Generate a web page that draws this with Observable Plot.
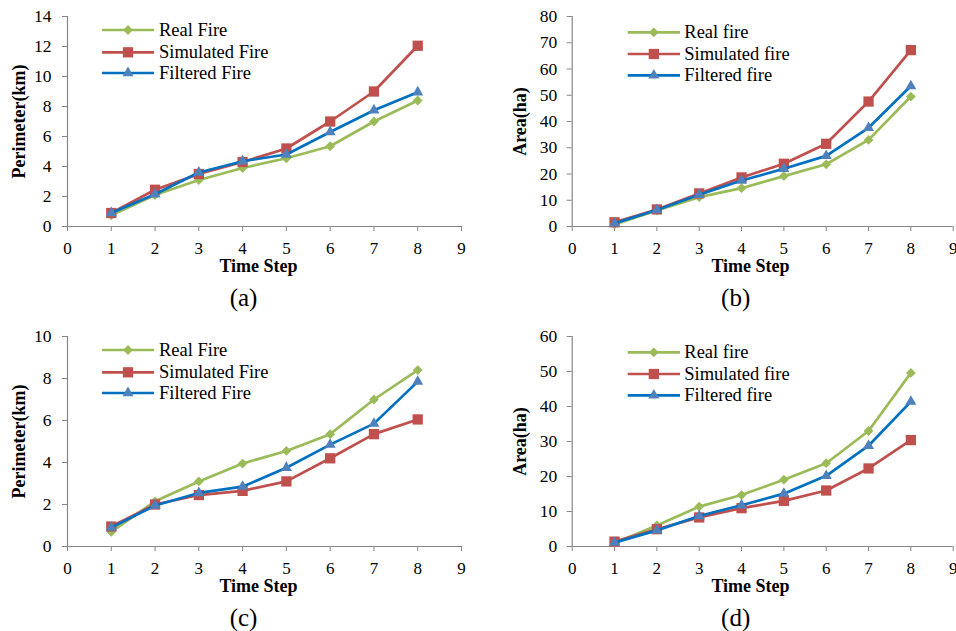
<!DOCTYPE html>
<html>
<head>
<meta charset="utf-8">
<script src="https://cdn.jsdelivr.net/npm/d3@7"></script>
<script src="https://cdn.jsdelivr.net/npm/@observablehq/plot@0.6"></script>
<style>
  html, body { margin: 0; padding: 0; background: #fff; }
  #fig { position: relative; width: 956px; height: 631px; overflow: hidden; background: #fff; }
  .panel { position: absolute; }
  .panel svg { position: absolute; left: 0; top: 0; overflow: visible; }
</style>
</head>
<body>
<div id="fig"></div>
<script>
// Time steps shared by all four panels
const timeSteps = [1, 2, 3, 4, 5, 6, 7, 8];
const xTicks = [0, 1, 2, 3, 4, 5, 6, 7, 8, 9];

// (a) perimeter, km
const perimA_real = [0.75, 2.1, 3.1, 3.9, 4.55, 5.35, 7.0, 8.4];
const perimA_sim  = [0.9, 2.45, 3.5, 4.3, 5.2, 7.0, 9.0, 12.05];
const perimA_filt = [0.9, 2.15, 3.6, 4.35, 4.8, 6.3, 7.75, 8.95];

// (b) area, ha
const areaB_real = [0.8, 6.1, 11.2, 14.6, 19.2, 23.7, 33.0, 49.5];
const areaB_sim  = [1.6, 6.5, 12.6, 18.7, 23.9, 31.5, 47.6, 67.2];
const areaB_filt = [1.2, 6.3, 12.1, 17.5, 22.0, 26.9, 37.6, 53.5];

// (c) perimeter, km
const perimC_real = [0.7, 2.15, 3.1, 3.95, 4.55, 5.35, 7.0, 8.4];
const perimC_sim  = [0.95, 2.0, 2.45, 2.65, 3.1, 4.2, 5.35, 6.05];
const perimC_filt = [0.9, 1.95, 2.55, 2.85, 3.75, 4.85, 5.85, 7.85];

// (d) area, ha
const areaD_real = [1.0, 6.0, 11.4, 14.7, 19.1, 23.8, 33.0, 49.6];
const areaD_sim  = [1.4, 4.95, 8.3, 10.95, 13.05, 16.0, 22.3, 30.4];
const areaD_filt = [1.1, 4.6, 8.7, 11.8, 15.1, 20.2, 28.8, 41.4];

const namesPerim = ["Real Fire", "Simulated Fire", "Filtered Fire"];
const namesArea  = ["Real fire", "Simulated fire", "Filtered fire"];

const FONT = "'Liberation Serif', 'Times New Roman', serif";
const AXIS_GRAY = "#868686";

// Per-series styling: line colour, marker colour, marker symbol and radius
const seriesStyle = [
  { line: "#9BBB59", marker: "#9BBB59", symbol: "diamond2", r: 4.4 },
  { line: "#C0504D", marker: "#C0504D", symbol: "square",   r: 5.8 },
  { line: "#0070C0", marker: "#4F81BD", symbol: "triangle", r: 4.1 }
];

const panels = [
  { id: "a", left: 0,   top: 0,   series: [perimA_real, perimA_sim, perimA_filt], names: namesPerim,
    yMax: 14, yStep: 2, yLabel: "Perimeter(km)", mLeft: 67, mRight: 17, yPad: 11,
    yLabelDx: -48, titleDx: -6, capDx: -21, legend: { x0: 102, x1: 154, xt: 159, rows: [30, 52.3, 73] } },
  { id: "b", left: 478, top: 0,   series: [areaB_real, areaB_sim, areaB_filt], names: namesArea,
    yMax: 80, yStep: 10, yLabel: "Area(ha)", mLeft: 93.7, mRight: 3.3, yPad: 10,
    yLabelDx: -52.4, titleDx: -12.2, capDx: -27, legend: { x0: 149.7, x1: 202, xt: 206.3, rows: [32.3, 54, 75.3] } },
  { id: "c", left: 0,   top: 320, series: [perimC_real, perimC_sim, perimC_filt], names: namesPerim,
    yMax: 10, yStep: 2, yLabel: "Perimeter(km)", mLeft: 67, mRight: 17, yPad: 11,
    yLabelDx: -48, titleDx: -6, capDx: -21, legend: { x0: 102, x1: 154, xt: 159, rows: [30, 52.3, 73] } },
  { id: "d", left: 478, top: 320, series: [areaD_real, areaD_sim, areaD_filt], names: namesArea,
    yMax: 60, yStep: 10, yLabel: "Area(ha)", mLeft: 93.7, mRight: 3.3, yPad: 10,
    yLabelDx: -52.4, titleDx: -12.2, capDx: -27, legend: { x0: 149.7, x1: 202, xt: 206.3, rows: [32.3, 54, 75.3] } }
];

const PW = 478, PH = 311, M_TOP = 16, M_BOTTOM = PH - 226;
const fig = document.getElementById("fig");

for (const p of panels) {
  const holder = document.createElement("div");
  holder.className = "panel";
  holder.style.left = p.left + "px";
  holder.style.top = p.top + "px";
  holder.style.width = PW + "px";
  holder.style.height = PH + "px";
  fig.appendChild(holder);

  const rows = [];
  p.series.forEach((vals, si) => {
    vals.forEach((v, i) => rows.push({ t: timeSteps[i], v, s: si }));
  });

  const seriesMarks = [];
  seriesStyle.forEach((st, si) => {
    const d = rows.filter(r => r.s === si);
    seriesMarks.push(Plot.line(d, { x: "t", y: "v", stroke: st.line, strokeWidth: 2.7 }));
    seriesMarks.push(Plot.dot(d, { x: "t", y: "v", symbol: () => st.symbol, r: st.r, fill: st.marker, stroke: "none" }));
  });

  const chart = Plot.plot({
    width: PW,
    height: PH,
    marginLeft: p.mLeft,
    marginRight: p.mRight,
    marginTop: M_TOP,
    marginBottom: M_BOTTOM,
    style: { fontFamily: FONT, fontSize: "17px", color: "black", background: "transparent", overflow: "visible" },
    x: { domain: [0, 9] },
    y: { domain: [0, p.yMax] },
    symbol: { type: "identity" },
    marks: [
      Plot.axisX({ ticks: xTicks, tickSize: 5, tickPadding: 10, stroke: AXIS_GRAY, fill: "black",
                   tickFormat: d => String(d), label: null, fontSize: 17, fontFamily: FONT }),
      Plot.axisY({ ticks: d3.range(0, p.yMax + 0.001, p.yStep), tickSize: 5, tickPadding: p.yPad,
                   stroke: AXIS_GRAY, fill: "black", tickFormat: d => String(d), label: null, fontSize: 17.5, fontFamily: FONT }),
      Plot.ruleX([0], { stroke: AXIS_GRAY, strokeWidth: 1.2 }),
      Plot.ruleY([0], { stroke: AXIS_GRAY, strokeWidth: 1.2 }),
      ...seriesMarks,
      Plot.text(["Time Step"], { frameAnchor: "bottom", lineAnchor: "middle", textAnchor: "middle",
                                 dx: p.titleDx, dy: 39.5, fontWeight: "bold", fontSize: 18, fontFamily: FONT, fill: "black" }),
      Plot.text([p.yLabel], { frameAnchor: "left", lineAnchor: "middle", textAnchor: "middle",
                              dx: p.yLabelDx, rotate: -90, fontWeight: "bold", fontSize: 18, fontFamily: FONT, fill: "black" }),
      Plot.text(["(" + p.id + ")"], { frameAnchor: "bottom", lineAnchor: "middle", textAnchor: "middle",
                                      dx: p.capDx, dy: 71, fontSize: 25, fontFamily: FONT, fill: "black" })
    ]
  });
  holder.appendChild(chart);

  // Legend: line swatch with marker, then the series name
  const lg = d3.select(holder).append("svg")
    .attr("width", PW).attr("height", PH)
    .style("pointer-events", "none");
  const L = p.legend;
  seriesStyle.forEach((st, si) => {
    const y = L.rows[si];
    lg.append("line")
      .attr("x1", L.x0).attr("x2", L.x1).attr("y1", y).attr("y2", y)
      .attr("stroke", st.line).attr("stroke-width", 2.7);
    const sym = st.symbol === "diamond2" ? d3.symbolDiamond2 : st.symbol === "square" ? d3.symbolSquare : d3.symbolTriangle;
    lg.append("path")
      .attr("d", d3.symbol(sym, Math.PI * st.r * st.r)())
      .attr("transform", `translate(${(L.x0 + L.x1) / 2},${y})`)
      .attr("fill", st.marker);
    lg.append("text")
      .attr("x", L.xt).attr("y", y + 6.1)
      .attr("font-family", FONT).attr("font-size", 18.5).attr("fill", "black")
      .text(p.names[si]);
  });
}
</script>
</body>
</html>
